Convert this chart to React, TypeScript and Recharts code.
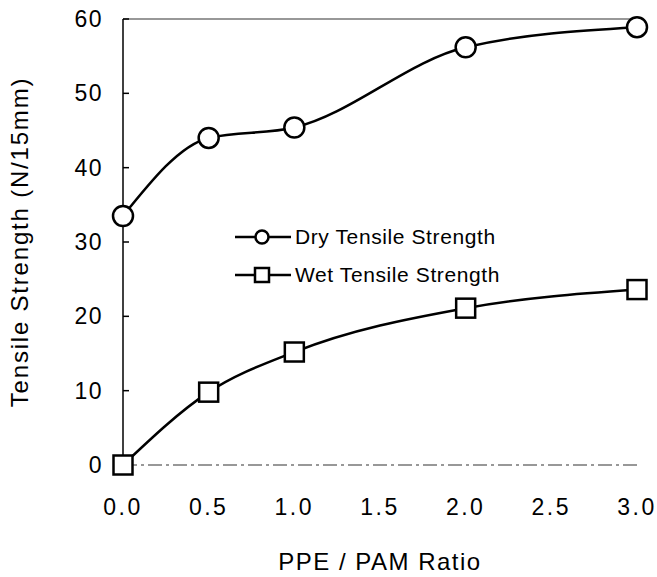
import React from "react";
import {
	LineChart,
	Line,
	XAxis,
	YAxis,
	ReferenceLine,
	Label,
} from "recharts";

const ratios = [0, 0.5, 1.0, 2.0, 3.0];
const dryStrength = [33.5, 44.0, 45.4, 56.2, 58.9];
const wetStrength = [0, 9.8, 15.2, 21.1, 23.6];
const xTicks = [0, 0.5, 1.0, 1.5, 2.0, 2.5, 3.0];
const yTicks = [0, 10, 20, 30, 40, 50, 60];

const data = ratios.map((r, i) => ({
	ratio: r,
	dry: dryStrength[i],
	wet: wetStrength[i],
}));

const FONT = "'Liberation Sans', Arial, Helvetica, sans-serif";

const CircleDot = (props: any) => {
	const { cx, cy, index } = props;
	return (
		<circle
			key={"c" + index}
			cx={cx}
			cy={cy}
			r={10}
			fill="#fff"
			stroke="#000"
			strokeWidth={2.5}
		/>
	);
};

const SquareDot = (props: any) => {
	const { cx, cy, index } = props;
	return (
		<rect
			key={"s" + index}
			x={cx - 9.5}
			y={cy - 9.5}
			width={19}
			height={19}
			fill="#fff"
			stroke="#000"
			strokeWidth={2.5}
		/>
	);
};

// legend sits inside the plot, so it is laid over the chart instead of
// going through <Legend>, which would shrink the plot area
function LegendBox() {
	const rows = [
		{ name: "Dry Tensile Strength", shape: "circle" },
		{ name: "Wet Tensile Strength", shape: "square" },
	];
	return (
		<div
			style={{
				position: "absolute",
				left: 235,
				top: 218,
				fontFamily: FONT,
				fontSize: 21,
				color: "#000",
			}}
		>
			{rows.map((r) => (
				<div
					key={r.name}
					style={{ display: "flex", alignItems: "center", height: 38 }}
				>
					<svg width={58} height={20}>
						<line x1={0} y1={10} x2={56} y2={10} stroke="#000" strokeWidth={2.5} />
						{r.shape === "circle" ? (
							<circle cx={27} cy={10} r={6.5} fill="#fff" stroke="#000" strokeWidth={2.5} />
						) : (
							<rect x={20} y={3} width={14} height={14} fill="#fff" stroke="#000" strokeWidth={2.5} />
						)}
					</svg>
					<span style={{ marginLeft: 2, letterSpacing: 0.6 }}>{r.name}</span>
				</div>
			))}
		</div>
	);
}

export default function App() {
	return (
		<div style={{ position: "absolute", left: 0, top: 0, width: 657, height: 577, background: "#fff" }}>
			<LineChart
				width={657}
				height={577}
				data={data}
				margin={{ top: 19, right: 20, bottom: 52, left: 63 }}
			>
				<XAxis
					dataKey="ratio"
					type="number"
					domain={[0, 3]}
					ticks={xTicks}
					tickFormatter={(v: number) => v.toFixed(1)}
					height={60}
					axisLine={{ stroke: "#333", strokeWidth: 1.2, strokeDasharray: "14 4 3 4" }}
					tickLine={false}
					tickMargin={28}
					tick={{ fill: "#000", fontSize: 23, fontFamily: FONT, letterSpacing: 2.5 }}
				>
					<Label
						content={() => (
							<text
								x={380}
								y={570}
								textAnchor="middle"
								fontFamily={FONT}
								fontSize={24}
								letterSpacing={1.5}
								fill="#000"
							>
								PPE / PAM Ratio
							</text>
						)}
					/>
				</XAxis>
				<YAxis
					type="number"
					domain={[0, 60]}
					ticks={yTicks}
					width={60}
					axisLine={{ stroke: "#000", strokeWidth: 1.5 }}
					tickLine={{ stroke: "#000", strokeWidth: 1.5 }}
					tickSize={-6}
					tickMargin={26}
					tick={{ fill: "#000", fontSize: 23, fontFamily: FONT, letterSpacing: 1.5 }}
				>
					<Label
						content={() => (
							<text
								x={19}
								y={242}
								transform="rotate(-90 19 242)"
								textAnchor="middle"
								dominantBaseline="central"
								fontFamily={FONT}
								fontSize={24}
								letterSpacing={1.8}
								fill="#000"
							>
								Tensile Strength (N/15mm)
							</text>
						)}
					/>
				</YAxis>
				{/* frame line along the top of the plot */}
				<ReferenceLine y={60} stroke="#333" strokeWidth={1.2} />
				<Line
					type="monotone"
					dataKey="dry"
					stroke="#000"
					strokeWidth={2.5}
					dot={CircleDot}
					activeDot={false}
					isAnimationActive={false}
				/>
				<Line
					type="monotone"
					dataKey="wet"
					stroke="#000"
					strokeWidth={2.5}
					dot={SquareDot}
					activeDot={false}
					isAnimationActive={false}
				/>
			</LineChart>
			<LegendBox />
		</div>
	);
}
